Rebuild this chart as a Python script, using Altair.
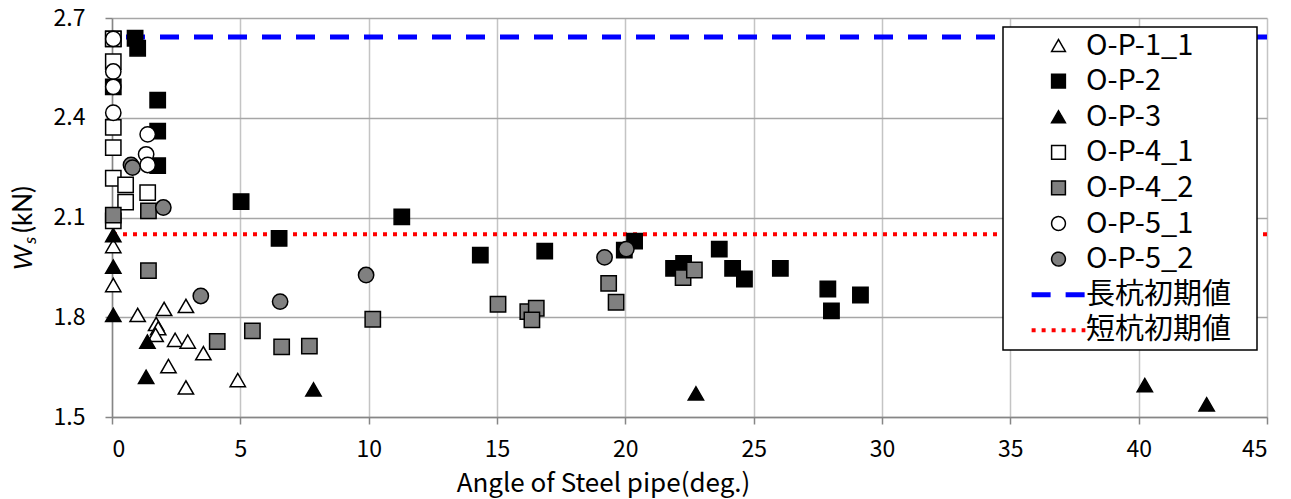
import altair as alt
import pandas as pd

series_names = ["O-P-1_1", "O-P-2", "O-P-3", "O-P-4_1", "O-P-4_2",
                "O-P-5_1", "O-P-5_2", "長杭初期値", "短杭初期値"]

op1_1_x = [0.05, 0.05, 1.0, 2.03, 2.88, 1.72, 1.80, 1.70, 2.46, 2.95, 3.56, 2.2, 4.9, 2.88]
op1_1_y = [2.014, 1.897, 1.807, 1.825, 1.834, 1.780, 1.767, 1.747, 1.732, 1.727, 1.692, 1.653, 1.611, 1.589]

op2_x = [0.05, 0.05, 0.9, 1.0, 1.78, 1.78, 1.78, 5.03, 6.51, 11.29, 14.35, 16.86, 19.96, 20.36,
         21.88, 22.27, 23.66, 24.18, 24.64, 26.04, 27.89, 28.03, 29.16]
op2_y = [2.637, 2.493, 2.639, 2.609, 2.453, 2.36, 2.256, 2.148, 2.037, 2.102, 1.987, 1.999, 2.002, 2.029,
         1.947, 1.962, 2.005, 1.947, 1.915, 1.947, 1.885, 1.819, 1.867]

op3_x = [0.05, 0.05, 0.05, 1.38, 1.33, 7.85, 22.75, 40.24, 42.65]
op3_y = [2.047, 1.952, 1.807, 1.727, 1.621, 1.583, 1.571, 1.596, 1.538]

op4_1_x = [0.05, 0.05, 0.05, 0.05, 0.05, 0.53, 1.39, 0.53, 0.05]
op4_1_y = [2.569, 2.371, 2.31, 2.218, 2.09, 2.198, 2.175, 2.146, 2.637]

op4_2_x = [0.05, 1.42, 1.42, 4.1, 5.47, 6.61, 7.69, 10.16, 15.04, 16.2, 16.53, 16.36,
           19.35, 19.64, 22.25, 22.69]
op4_2_y = [2.107, 2.12, 1.94, 1.727, 1.759, 1.711, 1.713, 1.794, 1.839, 1.817, 1.827, 1.792,
           1.902, 1.845, 1.919, 1.942]

op5_1_x = [0.05, 0.05, 0.05, 0.05, 1.39, 1.33, 1.39]
op5_1_y = [2.637, 2.539, 2.493, 2.415, 2.35, 2.29, 2.258]

op5_2_x = [0.74, 0.8, 2.0, 3.46, 6.55, 9.9, 19.19, 20.04]
op5_2_y = [2.258, 2.25, 2.13, 1.864, 1.847, 1.927, 1.98, 2.005]

line_values = [2.643, 2.05]

x_ticks = [0, 5, 10, 15, 20, 25, 30, 35, 40, 45]
y_ticks = [1.5, 1.8, 2.1, 2.4, 2.7]

rows = []
for name, xs, ys in [("O-P-1_1", op1_1_x, op1_1_y), ("O-P-2", op2_x, op2_y),
                     ("O-P-3", op3_x, op3_y), ("O-P-4_1", op4_1_x, op4_1_y),
                     ("O-P-4_2", op4_2_x, op4_2_y), ("O-P-5_1", op5_1_x, op5_1_y),
                     ("O-P-5_2", op5_2_x, op5_2_y)]:
    for a, b in zip(xs, ys):
        rows.append({"series": name, "order": series_names.index(name), "angle": a, "ws": b})
pts = pd.DataFrame(rows)
lines = pd.DataFrame({"series": ["長杭初期値", "短杭初期値"], "ws": line_values})

line_path = "M-3.9,0H3.9"
shape_scale = alt.Scale(domain=series_names,
                        range=["triangle-up", "square", "triangle-up", "square", "square",
                               "circle", "circle", line_path, line_path])
fill_scale = alt.Scale(domain=series_names,
                       range=["#ffffff", "#000000", "#000000", "#ffffff", "#808080",
                              "#ffffff", "#808080", "transparent", "transparent"])
stroke_scale = alt.Scale(domain=series_names, range=["#000000"] * 7 + ["#0000ff", "#ff0000"])
dash_scale = alt.Scale(domain=series_names, range=[[1, 0]] * 7 + [[19, 15], [4, 6]])
width_scale = alt.Scale(type="ordinal", domain=series_names, range=[1.5] * 7 + [5, 4])

LAT = "Lato"
CJK = "Noto Sans CJK JP"
legend = alt.Legend(
    title=None, orient="none", legendX=891, legendY=9,
    fillColor="white", strokeColor="black", padding=4,
    symbolSize=190, symbolOffset=37,
    labelFont=CJK + ", DejaVu Sans", labelFontSize=29, labelColor="black", labelLimit=400,
    labelOffset=13, rowPadding=5.6,
    labelExpr="datum.label + '\u2800'",
)

x_enc = alt.X("angle:Q", scale=alt.Scale(domain=[0, 45], nice=False),
              axis=alt.Axis(values=x_ticks, title="Angle of Steel pipe(deg.)",
                            titleX=491, titleAnchor="start", titleAlign="center",
                            labelPadding=14, titlePadding=9))
y_enc = alt.Y("ws:Q", scale=alt.Scale(domain=[1.5, 2.7], nice=False, zero=False),
              axis=alt.Axis(values=y_ticks, format=".1f", title=None, labelPadding=20))

rules = alt.Chart(lines).mark_rule().encode(
    y=alt.Y("ws:Q", scale=alt.Scale(domain=[1.5, 2.7], nice=False, zero=False)),
    stroke=alt.Stroke("series:N", scale=stroke_scale, legend=legend),
    strokeDash=alt.StrokeDash("series:N", scale=dash_scale, legend=legend),
    strokeWidth=alt.StrokeWidth("series:N", scale=width_scale, legend=legend),
)

points = alt.Chart(pts).mark_point(size=235, opacity=1).encode(
    x=x_enc, y=y_enc,
    shape=alt.Shape("series:N", scale=shape_scale, legend=legend),
    fill=alt.Fill("series:N", scale=fill_scale, legend=legend),
    stroke=alt.Stroke("series:N", scale=stroke_scale, legend=legend),
    strokeWidth=alt.StrokeWidth("series:N", scale=width_scale, legend=legend),
    order=alt.Order("order:Q"),
)

title_df = pd.DataFrame({"t": [""]})
t_w = alt.Chart(title_df).mark_text(text="W", font=LAT, fontSize=26, fontStyle="italic",
                                    angle=270, align="left", baseline="middle", color="black"
                                    ).encode(x=alt.value(-88), y=alt.value(252))
t_s = alt.Chart(title_df).mark_text(text="s", font=LAT, fontSize=18, fontStyle="italic",
                                    angle=270, align="left", baseline="middle", color="black"
                                    ).encode(x=alt.value(-81), y=alt.value(226))
t_kn = alt.Chart(title_df).mark_text(text="(kN)", font=LAT, fontSize=26,
                                     angle=270, align="left", baseline="middle", color="black"
                                     ).encode(x=alt.value(-88), y=alt.value(215))

chart = alt.layer(rules, points, t_w, t_s, t_kn).properties(
    width=1155, height=399,
    padding={"left": 104, "top": 10, "right": 10, "bottom": 82},
    autosize=alt.AutoSizeParams(type="none"),
).configure_view(strokeWidth=0).configure_axis(
    labelFont=CJK, labelFontSize=23, labelColor="black",
    titleFont=CJK, titleFontSize=26, titleColor="black", titleFontWeight="normal",
    domainColor="#868686", domainWidth=1.5, tickColor="#868686", tickSize=7, tickWidth=1.5,
    gridWidth=1.5,
).configure_axisX(gridColor="#c4c4c4").configure_axisY(gridColor="#a6a6a6").configure_legend(
    strokeWidth=1.5
)

chart.save("out.html", embed_options={"renderer": "svg", "actions": False})
